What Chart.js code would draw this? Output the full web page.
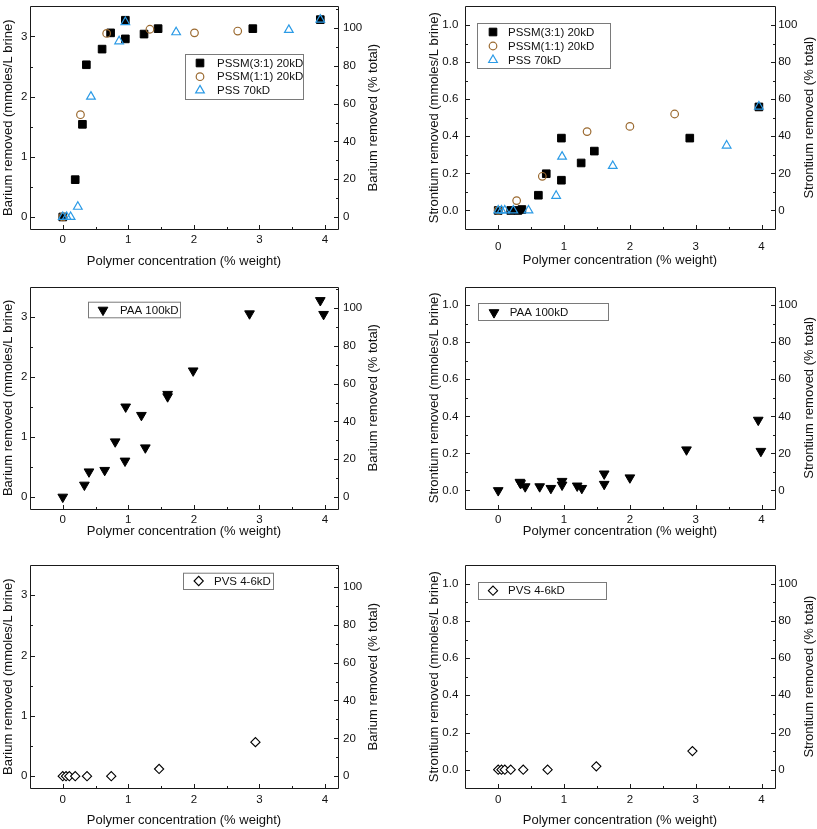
<!DOCTYPE html>
<html><head><meta charset="utf-8">
<script src="https://cdn.jsdelivr.net/npm/chart.js@4"></script>
<style>
html,body{margin:0;padding:0;background:#fff;width:817px;height:829px;overflow:hidden;position:relative}
canvas{position:absolute;display:block}
</style></head><body>
<canvas id="c1" width="408" height="270" style="left:0;top:0"></canvas>
<canvas id="c2" width="409" height="270" style="left:408px;top:0"></canvas>
<canvas id="c3" width="408" height="270" style="left:0;top:280px"></canvas>
<canvas id="c4" width="409" height="270" style="left:408px;top:280px"></canvas>
<canvas id="c5" width="408" height="270" style="left:0;top:559px"></canvas>
<canvas id="c6" width="409" height="270" style="left:408px;top:559px"></canvas>
<script>
// ---------- tick labels ----------
const xTicks = [0, 1, 2, 3, 4];
const baTicks = [0, 1, 2, 3];
const srTicks = [0, 0.2, 0.4, 0.6, 0.8, 1.0];
const pctTicks = [0, 20, 40, 60, 80, 100];

// ---------- series labels ----------
const labPSSM31 = 'PSSM(3:1) 20kD';
const labPSSM11 = 'PSSM(1:1) 20kD';
const labPSS = 'PSS 70kD';
const labPAA = 'PAA 100kD';
const labPVS = 'PVS 4-6kD';

// ---------- Barium, sulfonated polymers ----------
const baPSSM31X = [0, 0.19, 0.30, 0.36, 0.60, 0.73, 0.955, 0.955, 1.24, 1.455, 2.90, 3.93];
const baPSSM31Y = [0, 0.62, 1.54, 2.53, 2.79, 3.06, 2.96, 3.27, 3.04, 3.13, 3.13, 3.28];
const baPSSM11X = [0, 0.27, 0.67, 1.33, 2.01, 2.67];
const baPSSM11Y = [0, 1.70, 3.05, 3.12, 3.06, 3.09];
const baPSSX = [0, 0.06, 0.12, 0.23, 0.43, 0.86, 0.955, 1.73, 3.45, 3.93];
const baPSSY = [0, 0, 0, 0.17, 2.00, 2.92, 3.24, 3.07, 3.11, 3.28];

// ---------- Strontium, sulfonated polymers ----------
const srPSSM31X = [0, 0.19, 0.30, 0.36, 0.61, 0.73, 0.96, 0.96, 1.26, 1.46, 2.91, 3.96];
const srPSSM31Y = [0, 0, 0, 0.005, 0.082, 0.198, 0.163, 0.39, 0.256, 0.32, 0.39, 0.558];
const srPSSM11X = [0, 0.28, 0.67, 1.35, 2.00, 2.68];
const srPSSM11Y = [0, 0.053, 0.184, 0.425, 0.453, 0.52];
const srPSSX = [0, 0.05, 0.10, 0.23, 0.46, 0.88, 0.97, 1.74, 3.47, 3.96];
const srPSSY = [0, 0, 0, 0, 0, 0.079, 0.29, 0.24, 0.35, 0.56];

// ---------- PAA ----------
const baPAAX = [0, 0.33, 0.40, 0.64, 0.80, 0.95, 0.96, 1.20, 1.26, 1.60, 1.60, 1.99, 2.85, 3.93, 3.98];
const baPAAY = [0, 0.20, 0.42, 0.445, 0.92, 0.60, 1.50, 1.36, 0.82, 1.71, 1.67, 2.10, 3.05, 3.27, 3.04];
const srPAAX = [0, 0.33, 0.34, 0.41, 0.63, 0.80, 0.97, 0.97, 1.20, 1.27, 1.61, 1.61, 2.00, 2.86, 3.95, 3.99];
const srPAAY = [0, 0.045, 0.038, 0.021, 0.021, 0.012, 0.05, 0.03, 0.025, 0.012, 0.09, 0.034, 0.069, 0.22, 0.38, 0.212];

// ---------- PVS ----------
const baPVSX = [0, 0.05, 0.10, 0.19, 0.37, 0.74, 1.47, 2.94];
const baPVSY = [0, 0, 0, 0, 0, 0, 0.12, 0.565];
const srPVSX = [0, 0.05, 0.10, 0.19, 0.38, 0.75, 1.49, 2.95];
const srPVSY = [0, 0, 0, 0, 0, 0, 0.018, 0.10];

// ---------- text ----------
const xTitle = 'Polymer concentration (% weight)';
const baTitle = 'Barium removed (mmoles/L brine)';
const baPctTitle = 'Barium removed (% total)';
const srTitle = 'Strontium removed (mmoles/L brine)';
const srPctTitle = 'Strontium removed (% total)';

const FONT = '"Liberation Sans", Arial, Helvetica, sans-serif';
const BROWN = '#9B6A30';
const BLUE = '#2C9BE6';

const zip = (xs, ys) => xs.map((x, i) => ({x: x, y: ys[i]}));

function sq(label, xs, ys) { return {label, data: zip(xs, ys), pointStyle: 'rect', pointRadius: 5.4, backgroundColor: '#000', borderColor: '#000', borderWidth: 1, order: 2}; }
function circ(label, xs, ys) { return {label, data: zip(xs, ys), pointStyle: 'circle', pointRadius: 3.8, backgroundColor: 'rgba(0,0,0,0)', borderColor: BROWN, borderWidth: 1.2, order: 1}; }
function tri(label, xs, ys) { return {label, data: zip(xs, ys), pointStyle: 'triangle', pointRadius: 5, backgroundColor: 'rgba(255,255,255,0)', borderColor: BLUE, borderWidth: 1.2, order: 0}; }
function dtri(label, xs, ys) { return {label, data: zip(xs, ys), pointStyle: 'triangle', rotation: 180, pointRadius: 5.6, backgroundColor: '#000', borderColor: '#000', borderWidth: 1, order: 0}; }
function dia(label, xs, ys) { return {label, data: zip(xs, ys), pointStyle: 'rectRot', pointRadius: 4.6, backgroundColor: '#fff', borderColor: '#000', borderWidth: 1.1, order: 0}; }

function minors(arr) { const out = []; for (let i = 0; i < arr.length - 1; i++) out.push((arr[i] + arr[i + 1]) / 2); const st = arr[1] - arr[0]; out.unshift(arr[0] - st / 2); out.push(arr[arr.length - 1] + st / 2); return out; }

const frameTicks = {
  id: 'frameTicks',
  beforeDatasetsDraw(chart) {
    const {ctx, chartArea: a, scales} = chart;
    ctx.save();
    ctx.strokeStyle = '#1a1a1a'; ctx.lineWidth = 1;
    const l = Math.round(a.left) + 0.5, r = Math.round(a.right) + 0.5, t = Math.round(a.top) + 0.5, b = Math.round(a.bottom) + 0.5;
    ctx.beginPath();
    ctx.rect(l, t, r - l, b - t);
    const hTick = (scale, vals, len) => vals.forEach(v => { const p = Math.round(scale.getPixelForValue(v)) + 0.5; if (p < l + 2 || p > r - 2) return; ctx.moveTo(p, b); ctx.lineTo(p, b - len); });
    const vTick = (scale, vals, len, side) => vals.forEach(v => { const p = Math.round(scale.getPixelForValue(v)) + 0.5; if (p < t + 2 || p > b - 2) return; if (side === 'l') { ctx.moveTo(l, p); ctx.lineTo(l + len, p); } else { ctx.moveTo(r, p); ctx.lineTo(r - len, p); } });
    const xs = scales.x, ys = scales.y, y2 = scales.y2;
    const xm = xs.ticks.map(k => k.value), ym = ys.ticks.map(k => k.value), y2m = y2.ticks.map(k => k.value);
    hTick(xs, xm, 4.5); hTick(xs, minors(xm), 2.5);
    vTick(ys, ym, 4.5, 'l'); vTick(ys, minors(ym), 2.5, 'l');
    vTick(y2, y2m, 4.5, 'r'); vTick(y2, minors(y2m), 2.5, 'r');
    ctx.stroke();
    ctx.restore();
  }
};

const boxLegend = {
  id: 'boxLegend',
  afterDatasetsDraw(chart, args, o) {
    if (!o || !o.w) return;
    const ctx = chart.ctx;
    ctx.save();
    ctx.fillStyle = '#fff';
    ctx.fillRect(o.x, o.y, o.w, o.h);
    ctx.strokeStyle = '#7a7a7a'; ctx.lineWidth = 1;
    ctx.strokeRect(o.x + 0.5, o.y + 0.5, o.w, o.h);
    const dsets = chart.data.datasets;
    const n = dsets.length;
    for (let i = 0; i < n; i++) {
      const ds = dsets[i];
      const cy = o.y + o.first + i * o.step;
      ctx.fillStyle = ds.backgroundColor; ctx.strokeStyle = ds.borderColor; ctx.lineWidth = ds.borderWidth;
      Chart.helpers.drawPoint(ctx, {pointStyle: ds.pointStyle, rotation: ds.rotation || 0, radius: ds.pointRadius, borderWidth: ds.borderWidth}, o.x + o.mx, cy);
      ctx.fillStyle = '#111';
      ctx.font = '11.5px ' + FONT;
      ctx.textBaseline = 'middle'; ctx.textAlign = 'left';
      ctx.fillText(ds.label, o.x + o.tx, cy + 0.5);
    }
    ctx.restore();
  }
};

const rightTitle = {
  id: 'rightTitle',
  afterDraw(chart, args, o) {
    if (!o || !o.text) return;
    const {ctx, chartArea: a} = chart;
    ctx.save();
    ctx.translate(o.x, (a.top + a.bottom) / 2);
    ctx.rotate(-Math.PI / 2);
    ctx.fillStyle = '#111';
    ctx.font = '13px ' + FONT;
    ctx.textAlign = 'center'; ctx.textBaseline = 'middle';
    ctx.fillText(o.text, 0, 0);
    ctx.restore();
  }
};

function makeChart(p) {
  const W = p.W, H = 270;
  const tickFont = {family: FONT, size: 11.5};
  new Chart(document.getElementById(p.id), {
    type: 'scatter',
    data: {datasets: p.datasets},
    options: {
      responsive: false, animation: false, devicePixelRatio: 1,
      layout: {padding: {top: p.T, left: 0, right: 0, bottom: 0}},
      plugins: {legend: {display: false}, tooltip: {enabled: false},
        boxLegend: p.legend,
        rightTitle: {text: p.y2Title, x: p.y2TitleX}},
      elements: {point: {hoverRadius: 5}},
      scales: {
        x: {type: 'linear', position: 'bottom', min: -0.5, max: 4.2,
          afterBuildTicks: s => { s.ticks = xTicks.map(v => ({value: v})); },
          afterFit: s => { s.height = H - p.B; s.paddingLeft = 0; s.paddingRight = 0; },
          grid: {display: false, drawTicks: false}, border: {display: false},
          ticks: {font: tickFont, color: '#111', padding: p.xLabPad, maxRotation: 0, autoSkip: false, callback: v => String(v)},
          title: {display: true, text: xTitle, color: '#111', font: {family: FONT, size: 13}, padding: {top: 0, bottom: p.xTitlePad}}},
        y: {type: 'linear', position: 'left', min: p.ymin, max: p.ymax,
          afterBuildTicks: s => { s.ticks = p.yTicks.map(v => ({value: v})); },
          afterFit: s => { s.width = p.L; s.paddingTop = 0; s.paddingBottom = 0; },
          grid: {display: false, drawTicks: false}, border: {display: false},
          ticks: {font: tickFont, color: '#111', padding: p.yLabPad, autoSkip: false, callback: v => p.yDec ? Number(v).toFixed(p.yDec) : String(v)},
          title: {display: true, text: p.yTitle, color: '#111', font: {family: FONT, size: 13}, padding: {top: p.yTitlePad, bottom: 0}}},
        y2: {type: 'linear', position: 'right', min: p.ymin * p.k, max: p.ymax * p.k,
          afterBuildTicks: s => { s.ticks = pctTicks.map(v => ({value: v})); },
          afterFit: s => { s.width = W - p.R; s.paddingTop = 0; s.paddingBottom = 0; },
          grid: {display: false, drawTicks: false}, border: {display: false},
          ticks: {font: tickFont, color: '#111', padding: p.y2LabPad, autoSkip: false, callback: v => String(v)},
          title: {display: false, text: p.y2Title}}
      }
    },
    plugins: [frameTicks, boxLegend, rightTitle]
  });
}

const BA_K = 100 / 3.14;
const SR_K = 100;
const leftCol = {W: 408, L: 30, R: 338, yTitlePad: 0.5, yLabPad: 2.5, y2LabPad: 5, y2TitleX: 373};
const rightCol = {W: 409, L: 57.3, R: 366.7, yTitlePad: 18.2, yLabPad: 7, y2LabPad: 3.5, y2TitleX: 401.7};
const baAx = {ymin: -0.2, ymax: 3.5, k: BA_K, yTicks: baTicks, yDec: 0, yTitle: baTitle, y2Title: baPctTitle};
const srAx = {ymin: -0.1, ymax: 1.1, k: SR_K, yTicks: srTicks, yDec: 1, yTitle: srTitle, y2Title: srPctTitle};

makeChart(Object.assign({id: 'c1', T: 2, B: 229, xLabPad: 4, xTitlePad: 0.5,
  datasets: [sq(labPSSM31, baPSSM31X, baPSSM31Y), circ(labPSSM11, baPSSM11X, baPSSM11Y), tri(labPSS, baPSSX, baPSSY)],
  legend: {x: 185, y: 54, w: 118, h: 45, first: 9, step: 13.7, mx: 15, tx: 32}}, leftCol, baAx));
makeChart(Object.assign({id: 'c2', T: 2, B: 229, xLabPad: 11, xTitlePad: 2.2,
  datasets: [sq(labPSSM31, srPSSM31X, srPSSM31Y), circ(labPSSM11, srPSSM11X, srPSSM11Y), tri(labPSS, srPSSX, srPSSY)],
  legend: {x: 69, y: 23, w: 133, h: 45, first: 9, step: 14, mx: 16, tx: 31}}, rightCol, srAx));
makeChart(Object.assign({id: 'c3', T: 1.7, B: 229, xLabPad: 4, xTitlePad: 10.5,
  datasets: [dtri(labPAA, baPAAX, baPAAY)],
  legend: {x: 88, y: 21.7, w: 92, h: 15.6, first: 8.3, step: 14, mx: 15, tx: 32}}, leftCol, baAx));
makeChart(Object.assign({id: 'c4', T: 2.3, B: 229, xLabPad: 4, xTitlePad: 10.5,
  datasets: [dtri(labPAA, srPAAX, srPAAY)],
  legend: {x: 70, y: 23, w: 130, h: 17, first: 9.5, step: 14, mx: 16, tx: 31.7}}, rightCol, srAx));
makeChart(Object.assign({id: 'c5', T: 2, B: 229.3, xLabPad: 4.8, xTitlePad: 1.2,
  datasets: [dia(labPVS, baPVSX, baPVSY)],
  legend: {x: 183, y: 13.7, w: 90, h: 16.3, first: 8.3, step: 14, mx: 15.7, tx: 31}}, leftCol, baAx));
makeChart(Object.assign({id: 'c6', T: 2, B: 229.3, xLabPad: 4.8, xTitlePad: 1.2,
  datasets: [dia(labPVS, srPVSX, srPVSY)],
  legend: {x: 70, y: 23, w: 128, h: 17, first: 8.7, step: 14, mx: 15, tx: 30}}, rightCol, srAx));
</script>
</body></html>
